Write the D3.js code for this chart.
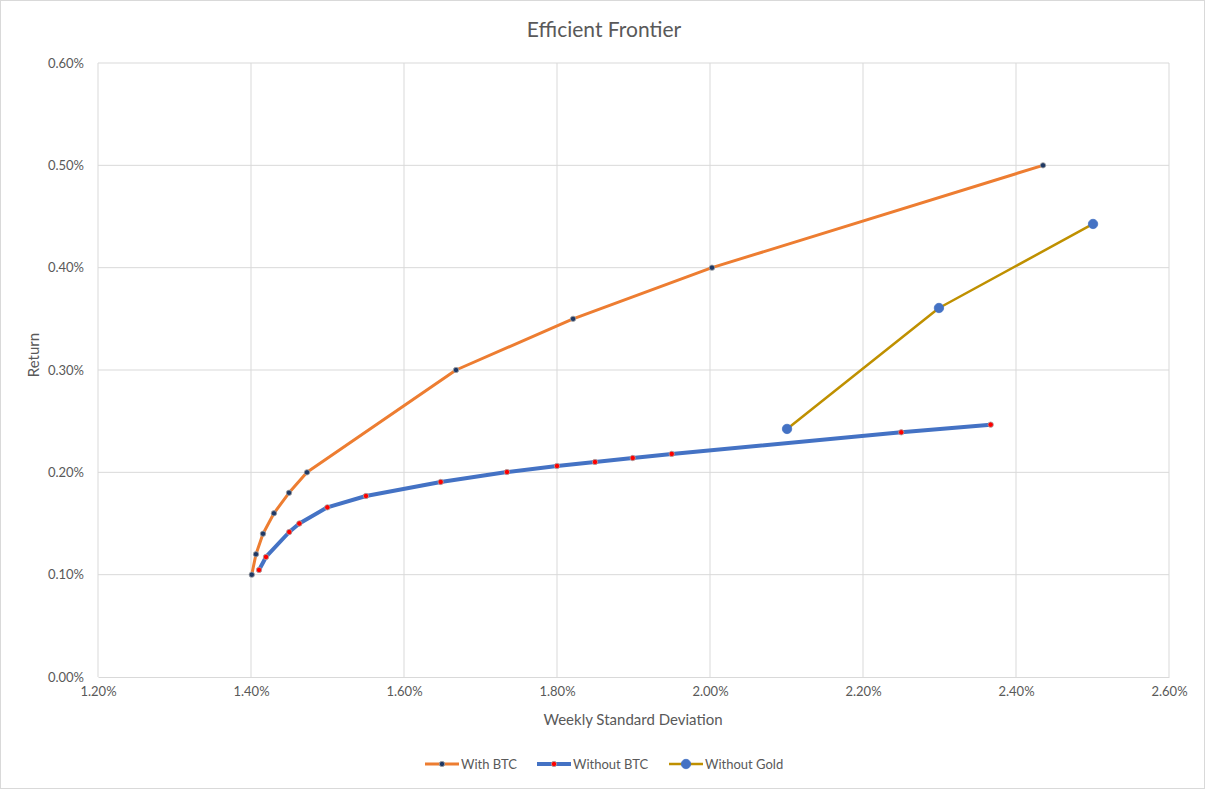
<!DOCTYPE html>
<html><head><meta charset="utf-8">
<script src="https://cdn.jsdelivr.net/npm/d3@7"></script>
<style>body{margin:0;background:#fff}svg{display:block}text{font-family:Lato,"Open Sans",sans-serif}</style>
</head><body><svg id="c" width="1205" height="789"></svg>
<script>
const xTicks = [1.2,1.4,1.6,1.8,2.0,2.2,2.4,2.6];
const yTicks = [0,0.1,0.2,0.3,0.4,0.5,0.6];
const withBtcX = [1.401,1.4065,1.4157,1.430,1.4497,1.4732,1.668,1.821,2.0026,2.4353];
const withBtcY = [0.100,0.120,0.140,0.160,0.180,0.200,0.300,0.350,0.400,0.500];
const withoutBtcX = [1.4105,1.4196,1.450,1.4632,1.4998,1.5503,1.648,1.7346,1.800,1.8497,1.899,1.950,2.250,2.3669];
const withoutBtcY = [0.1046,0.1173,0.1417,0.150,0.1658,0.1769,0.1906,0.2003,0.2062,0.2101,0.214,0.218,0.2391,0.2466];
const withoutGoldX = [2.1007,2.2993,2.5007];
const withoutGoldY = [0.2424,0.3606,0.4427];
const seriesNames = ["With BTC","Without BTC","Without Gold"];

const svg = d3.select("#c");
svg.append("rect").attr("x",0.5).attr("y",0.5).attr("width",1204).attr("height",788).attr("fill","#fff").attr("stroke","#d9d9d9");
const L=98,R=1169,T=63,B=677;
const x = d3.scaleLinear().domain([1.2,2.6]).range([L,R]);
const y = d3.scaleLinear().domain([0,0.6]).range([B,T]);
const tc="#595959";
svg.append("g").selectAll("line").data(yTicks.slice(1)).join("line")
  .attr("x1",L).attr("x2",R).attr("y1",d=>y(d)).attr("y2",d=>y(d)).attr("stroke","#d9d9d9");
svg.append("g").selectAll("line").data(xTicks).join("line")
  .attr("y1",T).attr("y2",B).attr("x1",d=>x(d)).attr("x2",d=>x(d)).attr("stroke","#d9d9d9");
const xa = svg.append("g").attr("transform",`translate(0,${B})`)
  .call(d3.axisBottom(x).tickValues(xTicks).tickFormat(d=>d.toFixed(2)+"%").tickSize(0).tickPadding(10));
xa.select(".domain").attr("stroke","#d9d9d9");
xa.selectAll("text").attr("fill",tc).style("font-size","13px").style("font-family","Lato, sans-serif");
const ya = svg.append("g").attr("transform",`translate(${L},0)`)
  .call(d3.axisLeft(y).tickValues(yTicks).tickFormat(d=>d.toFixed(2)+"%").tickSize(0).tickPadding(14));
ya.select(".domain").remove();
ya.selectAll("text").attr("fill",tc).style("font-size","13px").style("font-family","Lato, sans-serif");

svg.append("text").attr("x",604).attr("y",37).attr("text-anchor","middle").attr("fill",tc).style("font-size","21px").text("Efficient Frontier");
svg.append("text").attr("x",633).attr("y",725).attr("text-anchor","middle").attr("fill",tc).style("font-size","15px").text("Weekly Standard Deviation");
svg.append("text").attr("transform","translate(39,355) rotate(-90)").attr("text-anchor","middle").attr("fill",tc).style("font-size","15px").text("Return");

const line = d3.line().x(d=>x(d[0])).y(d=>y(d[1]));
const series = [
  {xs:withBtcX, ys:withBtcY, color:"#ED7D31", w:3, mfill:"#1F3864", mstroke:"#a6a6a6", r:2.7},
  {xs:withoutBtcX, ys:withoutBtcY, color:"#4472C4", w:4, mfill:"#FF0000", mstroke:"#a6a6a6", r:2.7},
  {xs:withoutGoldX, ys:withoutGoldY, color:"#BF9000", w:2.5, mfill:"#4472C4", mstroke:"#4472C4", r:4.7}
];
series.forEach(s=>{
  const pts = s.xs.map((v,i)=>[v,s.ys[i]]);
  svg.append("path").datum(pts).attr("d",line).attr("fill","none").attr("stroke",s.color).attr("stroke-width",s.w).attr("stroke-linejoin","round");
  svg.append("g").selectAll("circle").data(pts).join("circle")
    .attr("cx",d=>x(d[0])).attr("cy",d=>y(d[1])).attr("r",s.r).attr("fill",s.mfill).attr("stroke",s.mstroke).attr("stroke-width",0.8);
});
const lx=[425,537,669];
series.forEach((s,i)=>{
  const g = svg.append("g");
  g.append("line").attr("x1",lx[i]).attr("x2",lx[i]+34).attr("y1",764).attr("y2",764).attr("stroke",s.color).attr("stroke-width",s.w);
  g.append("circle").attr("cx",lx[i]+17).attr("cy",764).attr("r",s.r).attr("fill",s.mfill).attr("stroke",s.mstroke).attr("stroke-width",0.8);
  g.append("text").attr("x",lx[i]+36).attr("y",769).attr("fill",tc).style("font-size","13px").text(seriesNames[i]);
});
</script></body></html>
